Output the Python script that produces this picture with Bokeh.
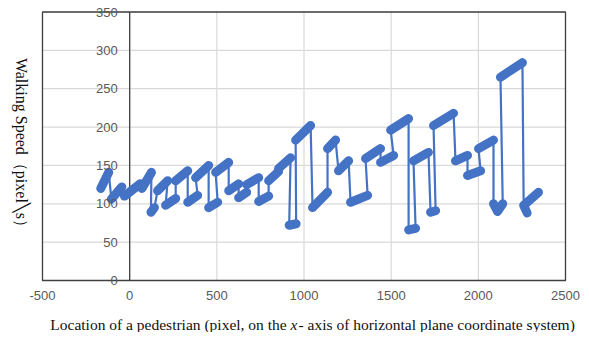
import math
from bokeh.plotting import figure
from bokeh.models import ColumnDataSource, LabelSet, Label
from bokeh.core.properties import value
from bokeh.embed import file_html
from bokeh.resources import INLINE

# ---- data ----
# each point: location on x-axis (pixel), walking speed (pixel/s), run id
location = [-166, -120, -105, -45, -30, 60, 70, 125, 122, 142,
            160, 218, 206, 264, 264, 333, 333, 390, 378, 453,
            453, 505, 493, 568, 568, 625, 625, 671, 671, 740,
            740, 797, 797, 854, 854, 923, 915, 955, 952, 1038,
            1049, 1135, 1135, 1181, 1198, 1256, 1267, 1365, 1353, 1439,
            1439, 1514, 1497, 1600, 1600, 1640, 1628, 1714, 1726, 1755,
            1743, 1858, 1869, 1938, 1938, 2013, 2001, 2087, 2087, 2110, 2140,
            2127, 2253, 2260, 2280, 2270, 2345]
speed = [120, 141, 106, 122, 110, 126, 120, 141, 89, 95,
         117, 130, 98, 107, 130, 143, 102, 111, 134, 150,
         95, 102, 141, 154, 117, 126, 108, 115, 125, 134,
         103, 110, 130, 142, 146, 160, 72, 74, 183, 202,
         95, 115, 172, 183, 143, 156, 102, 111, 159, 172,
         154, 163, 196, 211, 66, 68, 156, 167, 89, 91,
         202, 218, 156, 163, 137, 143, 172, 183, 100, 90, 100,
         265, 284, 98, 88, 100, 115]
run_id = [0, 0, 1, 1, 2, 2, 3, 3, 4, 4,
          5, 5, 6, 6, 7, 7, 8, 8, 9, 9,
          10, 10, 11, 11, 12, 12, 13, 13, 14, 14,
          15, 15, 16, 16, 17, 17, 18, 18, 19, 19,
          20, 20, 21, 21, 22, 22, 23, 23, 24, 24,
          25, 25, 26, 26, 27, 27, 28, 28, 29, 29,
          30, 30, 31, 31, 32, 32, 33, 33, 34, 34, 34,
          35, 35, 36, 36, 37, 37]

x_ticks = [-500, 0, 500, 1000, 1500, 2000, 2500]
x_tick_labels = ["-500", "0", "500", "1000", "1500", "2000", "2500"]
y_ticks = [0, 50, 100, 150, 200, 250, 300, 350]
y_tick_labels = ["0", "50", "100", "150", "200", "250", "300", "350"]

x_title_a = "Location of a pedestrian (pixel, on the "
x_title_b = "x"
x_title_c = "- axis of horizontal plane coordinate system)"
y_title = "Walking Speed\uff08pixel\u2572s\uff09"

BLUE = "#4472C4"
GRID = "#d9d9d9"
AXIS = "#404040"
TICK_TXT = "#595959"

# ---- layout: the frame covers the whole canvas; the plot box is drawn inside it ----
W, H = 581, 332
BOX_L, BOX_R, BOX_T, BOX_B = 42, 565, 11.5, 280     # plot box in canvas pixels
xmin, xmax = x_ticks[0], x_ticks[-1]
ymin, ymax = y_ticks[0], y_ticks[-1]
sx = (xmax - xmin) / (BOX_R - BOX_L)
sy = (ymax - ymin) / (BOX_B - BOX_T)
x_range = (xmin - BOX_L * sx, xmax + (W - BOX_R) * sx)
y_range = (ymin - (H - BOX_B) * sy, ymax + BOX_T * sy)

p = figure(width=W, height=H, x_range=x_range, y_range=y_range,
           x_axis_type=None, y_axis_type=None, title=None,
           output_backend="svg", toolbar_location=None, min_border=0)
p.outline_line_color = None
p.background_fill_color = "white"
p.border_fill_color = "white"

# grid lines inside the plot box
p.segment(x0=x_ticks, y0=[ymin] * len(x_ticks), x1=x_ticks, y1=[ymax] * len(x_ticks),
          line_color=GRID, line_width=1.2)
p.segment(x0=[xmin] * len(y_ticks), y0=y_ticks, x1=[xmax] * len(y_ticks), y1=y_ticks,
          line_color=GRID, line_width=1.2)

# plot box outline and the vertical axis at x = 0
p.quad(left=[xmin], right=[xmax], bottom=[ymin], top=[ymax],
       fill_color=None, line_color=AXIS, line_width=1.3)
p.segment(x0=[0], y0=[ymin], x1=[0], y1=[ymax], line_color=AXIS, line_width=1.3)

# thin connecting line through all points
p.line(location, speed, line_color=BLUE, line_width=2.2)

# thick runs
runs = {}
for xv, yv, r in zip(location, speed, run_id):
    runs.setdefault(r, ([], []))
    runs[r][0].append(xv)
    runs[r][1].append(yv)
xs = [runs[k][0] for k in sorted(runs)]
ys = [runs[k][1] for k in sorted(runs)]
p.multi_line(xs, ys, line_color=BLUE, line_width=9, line_cap="round", line_join="round")

# y tick labels beside the x = 0 axis
ysrc = ColumnDataSource(dict(x=[0] * len(y_ticks), y=y_ticks, t=y_tick_labels))
p.add_layout(LabelSet(x="x", y="y", text="t", source=ysrc, x_offset=-12,
                      text_align="right", text_baseline="middle",
                      text_font=value("Liberation Sans"), text_font_size=value("13px"),
                      text_color=value(TICK_TXT)))

# x tick labels below the box
xlab_y = ymin - 15 * sy
xsrc = ColumnDataSource(dict(x=x_ticks, y=[xlab_y] * len(x_ticks), t=x_tick_labels))
p.add_layout(LabelSet(x="x", y="y", text="t", source=xsrc,
                      text_align="center", text_baseline="middle",
                      text_font=value("Liberation Sans"), text_font_size=value("13px"),
                      text_color=value(TICK_TXT)))

# x title (with italic x)
xt_x = xmin + (290 - BOX_L) * sx
xt_y = ymin - (324 - BOX_B) * sy
p.add_layout(Label(x=xt_x, y=xt_y, text=x_title_a, text_align="right", text_baseline="middle",
                   text_font="Liberation Serif", text_font_size="15.5px", text_color="#111111"))
p.add_layout(Label(x=xt_x, y=xt_y, text=x_title_b, text_align="left", text_baseline="middle",
                   text_font="Liberation Serif", text_font_style="italic",
                   text_font_size="15.5px", text_color="#111111"))
p.add_layout(Label(x=xt_x, y=xt_y, x_offset=8, text=x_title_c, text_align="left",
                   text_baseline="middle",
                   text_font="Liberation Serif", text_font_size="15.5px", text_color="#111111"))

# y title (reads top to bottom)
p.add_layout(Label(x=xmin - (BOX_L - 21) * sx, y=ymax - (146 - BOX_T) * sy, text=y_title,
                   angle=-math.pi / 2, text_align="center", text_baseline="middle",
                   text_font="Liberation Serif", text_font_size="16px", text_color="#111111"))

open("out.html", "w").write(file_html(p, INLINE))
